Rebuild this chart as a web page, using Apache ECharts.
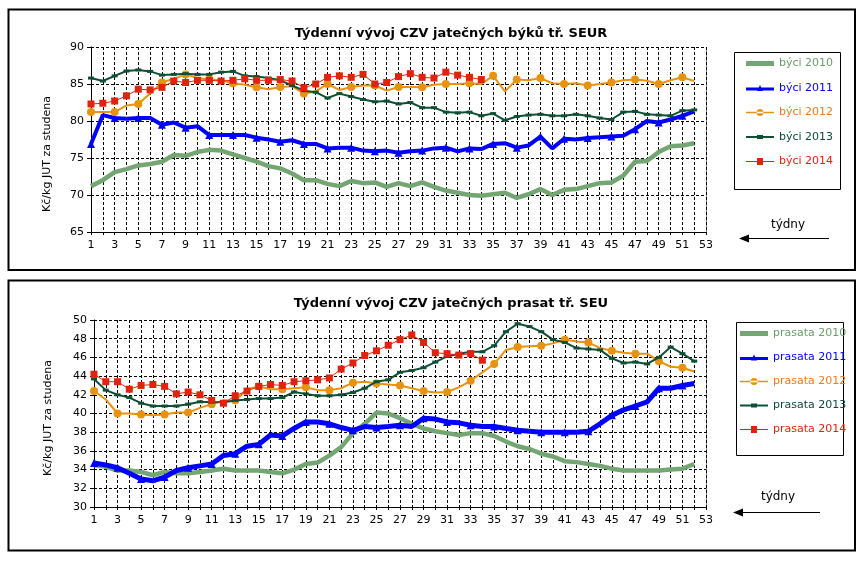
<!DOCTYPE html>
<html><head><meta charset="utf-8">
<script src="https://cdn.jsdelivr.net/npm/echarts@6/dist/echarts.min.js"></script>
<style>html,body{margin:0;padding:0;background:#fff}#c{width:865px;height:562px}</style>
</head><body><div id="c"></div>
<script>
var weeks = [];
for (var i = 1; i <= 53; i++) weeks.push(String(i));

var titleTop = 'Týdenní vývoj CZV jatečných býků tř. SEUR';
var titleBottom = 'Týdenní vývoj CZV jatečných prasat tř. SEU';
var yName = 'Kč/kg JUT za studena';
var xName = 'týdny';

var namesTop = ['býci 2010', 'býci 2011', 'býci 2012', 'býci 2013', 'býci 2014'];
var namesBottom = ['prasata 2010', 'prasata 2011', 'prasata 2012', 'prasata 2013', 'prasata 2014'];

var byci2010 = [71.2,72.0,73.1,73.5,74.0,74.2,74.5,75.4,75.3,75.8,76.1,76.0,75.5,75.0,74.5,73.9,73.6,72.9,72.0,72.0,71.5,71.2,71.9,71.6,71.7,71.1,71.6,71.2,71.7,71.1,70.6,70.3,70.0,69.9,70.1,70.3,69.6,70.1,70.8,70.0,70.7,70.8,71.2,71.6,71.7,72.6,74.5,74.6,75.8,76.6,76.7,77.0];
var byci2011 = [76.9,80.8,80.4,80.3,80.4,80.4,79.5,79.8,79.1,79.3,78.1,78.1,78.1,78.1,77.75,77.5,77.2,77.4,76.9,76.9,76.3,76.4,76.4,76.0,75.9,76.0,75.7,75.9,76.0,76.3,76.4,75.9,76.3,76.2,76.9,77.0,76.4,76.7,77.9,76.3,77.6,77.5,77.7,77.8,77.9,78.0,78.9,80.0,79.8,80.2,80.7,81.3];
var byci2012 = [81.2,81.2,81.2,82.1,82.3,83.7,85.2,85.7,86.3,85.8,85.6,85.5,85.1,84.9,84.55,84.3,84.6,84.7,83.7,84.0,85.0,84.2,84.6,84.8,84.8,84.1,84.6,84.6,84.55,84.9,85.0,85.0,85.1,85.0,86.1,84.0,85.6,85.5,85.8,85.1,85.0,85.1,84.8,85.0,85.2,85.5,85.6,85.45,85.0,85.5,85.9,85.4];
var byci2013 = [85.8,85.4,86.1,86.75,86.9,86.7,86.2,86.3,86.4,86.3,86.3,86.6,86.7,86.1,86.0,85.8,85.5,84.8,84.1,83.9,83.1,83.7,83.3,82.9,82.6,82.7,82.3,82.5,81.8,81.8,81.2,81.1,81.2,80.7,81.0,80.1,80.6,80.8,80.9,80.7,80.7,80.9,80.7,80.4,80.2,81.2,81.3,80.9,80.8,80.7,81.4,81.5];
var byci2014 = [82.3,82.4,82.7,83.4,84.3,84.2,84.55,85.4,85.2,85.5,85.5,85.4,85.5,85.7,85.5,85.5,85.6,85.4,84.5,85.0,85.9,86.1,85.9,86.3,85.0,85.2,86.0,86.4,85.9,85.8,86.6,86.2,85.9,85.6];

var prasata2010 = [34.5,34.3,33.9,33.9,33.75,33.4,33.75,33.6,33.6,33.75,33.9,34.1,33.9,33.9,33.9,33.75,33.6,34.0,34.6,34.75,35.5,36.4,37.9,38.9,40.1,40.0,39.5,38.9,38.4,38.1,37.9,37.7,37.9,37.9,37.6,37.0,36.5,36.2,35.7,35.4,34.9,34.8,34.6,34.4,34.1,33.9,33.9,33.9,33.9,34.0,34.1,34.6];
var prasata2011 = [34.7,34.5,34.2,33.6,33.0,32.8,33.2,33.9,34.2,34.4,34.6,35.5,35.7,36.5,36.7,37.7,37.6,38.4,39.1,39.1,38.9,38.5,38.2,38.6,38.5,38.6,38.75,38.6,39.5,39.4,39.1,39.0,38.75,38.6,38.6,38.4,38.2,38.1,38.0,38.0,38.0,38.0,38.1,38.9,39.8,40.4,40.8,41.25,42.7,42.7,43.0,43.2];
var prasata2012 = [42.4,41.5,40.0,40.0,39.9,39.8,39.9,40.1,40.1,40.6,41.0,41.4,41.4,42.6,42.9,42.6,42.6,42.7,42.8,42.5,42.5,42.7,43.3,43.4,43.2,43.1,43.0,42.7,42.4,42.25,42.3,42.8,43.5,44.4,45.3,46.8,47.1,47.2,47.25,47.5,47.9,47.7,47.6,47.0,46.7,46.5,46.4,46.4,45.6,45.0,44.9,44.5];
var prasata2013 = [43.7,42.5,42.0,41.7,41.1,40.8,40.8,40.8,41.0,41.25,41.2,41.2,41.4,41.5,41.6,41.6,41.7,42.3,42.1,41.9,41.9,42.0,42.25,42.7,43.4,43.6,44.4,44.6,44.9,45.5,46.1,46.4,46.6,46.6,47.25,48.75,49.6,49.3,48.75,47.9,47.6,47.0,46.9,46.8,45.9,45.4,45.5,45.3,46.0,47.1,46.4,45.6];
var prasata2014 = [44.2,43.4,43.4,42.6,43.0,43.1,42.9,42.1,42.3,42.0,41.4,41.1,41.9,42.4,42.9,43.1,43.0,43.4,43.5,43.6,43.8,44.75,45.4,46.2,46.7,47.3,47.9,48.4,47.6,46.5,46.4,46.25,46.4,45.7];

var FONT = 'DejaVu Sans';
var styles = [
  {line:'#74a674', text:'#6b9c6b', width:4.5, symbol:'none', size:0,
   icon:'path://M0,0 H28 V5 H0 Z'},
  {line:'#0000ff', text:'#0000ff', width:4, symbol:'triangle', size:8,
   icon:'path://M0,2.5 H28 V5.5 H0 Z M14,0 L17,6 L11,6 Z'},
  {line:'#e8930f', text:'#f0781e', width:2, symbol:'circle', size:8,
   icon:'path://M0,3.2 H28 V4.8 H0 Z M10.5,4 A3.5,3.5 0 1,0 17.5,4 A3.5,3.5 0 1,0 10.5,4 Z'},
  {line:'#0f5034', text:'#0b4a3a', width:2, symbol:'rect', size:[6,3],
   icon:'path://M0,1 H28 V3 H0 Z M11,0 H17 V4 H11 Z'},
  {line:'#e0230f', text:'#e0230f', width:1, symbol:'rect', size:7,
   icon:'path://M0,3.5 H28 V4.5 H0 Z M11,0.5 H17 V7.5 H11 Z'}
];

function mkSeries(names, datas, gi) {
  return names.map(function (n, k) {
    var s = styles[k];
    return {
      name: n, type: 'line', xAxisIndex: gi, yAxisIndex: gi,
      data: datas[k],
      symbol: s.symbol, symbolSize: s.size, showSymbol: s.symbol !== 'none',
      lineStyle: {color: s.line, width: (gi === 1 && k === 1) ? 5 : s.width},
      itemStyle: {color: s.line},
      emphasis: {disabled: true}, animation: false, z: 3 + k
    };
  });
}

function xAx(gi) {
  return {
    type: 'category', gridIndex: gi, data: weeks, boundaryGap: false,
    axisLine: {lineStyle: {color: '#000', width: 1}},
    axisTick: {show: true, interval: 0, length: 3, lineStyle: {color: '#000'}},
    axisLabel: {interval: 1, color: '#000', fontFamily: FONT, fontSize: 11, margin: 8},
    splitLine: {show: true, interval: 0, lineStyle: {color: '#000', type: [3, 2], width: 1}}
  };
}
function yAx(gi, mn, mx, iv) {
  return {
    type: 'value', gridIndex: gi, min: mn, max: mx, interval: iv,
    axisLine: {show: true, lineStyle: {color: '#000', width: 1}},
    axisTick: {show: true, length: 4, lineStyle: {color: '#000'}},
    axisLabel: {color: '#000', fontFamily: FONT, fontSize: 11, margin: 7},
    splitLine: {show: true, lineStyle: {color: '#000', type: [3, 2], width: 1}}
  };
}

function legendData(names) {
  return names.map(function (n, k) {
    return {name: n, icon: styles[k].icon, textStyle: {color: styles[k].text}};
  });
}

function arrow(x1, x2, y) {
  return [
    {type: 'line', shape: {x1: x1 + 8, y1: y, x2: x2, y2: y}, style: {stroke: '#000', lineWidth: 1}},
    {type: 'polygon', shape: {points: [[x1, y], [x1 + 10, y - 4], [x1 + 10, y + 4]]}, style: {fill: '#000'}}
  ];
}

var chart = echarts.init(document.getElementById('c'), null, {renderer: 'canvas'});
chart.setOption({
  animation: false,
  backgroundColor: '#fff',
  grid: [
    {left: 91, top: 47, width: 615, height: 185},
    {left: 94, top: 320, width: 612, height: 187}
  ],
  xAxis: [xAx(0), xAx(1)],
  yAxis: [yAx(0, 65, 90, 5), yAx(1, 30, 50, 2)],
  legend: [
    {orient: 'vertical', left: 746, top: 58, itemWidth: 28, itemHeight: 14, itemGap: 13.5, padding: 0,
     symbolKeepAspect: true, itemStyle: {borderWidth: 0},
     textStyle: {fontFamily: FONT, fontSize: 11}, data: legendData(namesTop), selectedMode: false},
    {orient: 'vertical', left: 740, top: 328, itemWidth: 28, itemHeight: 14, itemGap: 13, padding: 0,
     symbolKeepAspect: true, itemStyle: {borderWidth: 0},
     textStyle: {fontFamily: FONT, fontSize: 11}, data: legendData(namesBottom), selectedMode: false}
  ],
  title: [
    {text: titleTop, left: 446, top: 22, textAlign: 'center', textStyle: {fontFamily: FONT, fontSize: 13, fontWeight: 'bold', color: '#000'}},
    {text: titleBottom, left: 446, top: 292, textAlign: 'center', textStyle: {fontFamily: FONT, fontSize: 13, fontWeight: 'bold', color: '#000'}}
  ],
  graphic: [
    {type: 'rect', shape: {x: 8.5, y: 9.5, width: 846.5, height: 260.5}, style: {fill: 'none', stroke: '#000', lineWidth: 2}, z: 0},
    {type: 'rect', shape: {x: 8.5, y: 280.5, width: 846.5, height: 270}, style: {fill: 'none', stroke: '#000', lineWidth: 2}, z: 0},
    {type: 'rect', shape: {x: 734.5, y: 52.5, width: 106, height: 137}, style: {fill: 'none', stroke: '#000', lineWidth: 1}},
    {type: 'rect', shape: {x: 736.5, y: 322.5, width: 107, height: 133}, style: {fill: 'none', stroke: '#000', lineWidth: 1}},
    {type: 'line', shape: {x1: 706.5, y1: 47, x2: 706.5, y2: 232}, style: {stroke: '#888', lineWidth: 1}},
    {type: 'line', shape: {x1: 706.5, y1: 320, x2: 706.5, y2: 507}, style: {stroke: '#888', lineWidth: 1}},
    {type: 'text', x: 47, y: 154, rotation: Math.PI / 2, style: {text: yName, fontFamily: FONT, fontSize: 11, fill: '#000', textAlign: 'center', textVerticalAlign: 'middle'}},
    {type: 'text', x: 48, y: 418, rotation: Math.PI / 2, style: {text: yName, fontFamily: FONT, fontSize: 11, fill: '#000', textAlign: 'center', textVerticalAlign: 'middle'}},
    {type: 'text', x: 788, y: 225, style: {text: xName, fontFamily: FONT, fontSize: 12, fill: '#000', textAlign: 'center', textVerticalAlign: 'middle'}},
    {type: 'text', x: 778, y: 497, style: {text: xName, fontFamily: FONT, fontSize: 12, fill: '#000', textAlign: 'center', textVerticalAlign: 'middle'}}
  ].concat(arrow(739, 829, 238.5)).concat(arrow(733, 820, 512.5)),
  series: mkSeries(namesTop, [byci2010, byci2011, byci2012, byci2013, byci2014], 0)
    .concat(mkSeries(namesBottom, [prasata2010, prasata2011, prasata2012, prasata2013, prasata2014], 1))
});
</script></body></html>
